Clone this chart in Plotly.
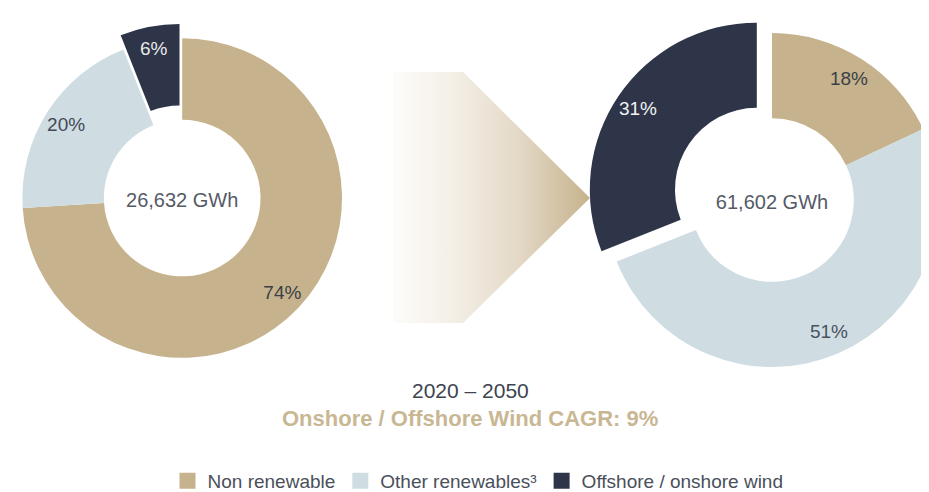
import plotly.graph_objects as go

# ---- data ----
categories = ["Non renewable", "Other renewables³", "Offshore / onshore wind"]
share_2020 = [74, 20, 6]
share_2050 = [18, 51, 31]
totals = ["26,632 GWh", "61,602 GWh"]
period_label = "2020 – 2050"
cagr_label = "Onshore / Offshore Wind CAGR: 9%"

# ---- style ----
colors = ["#c6b28c", "#cfdde3", "#2e3549"]
label_colors_2020 = ["#3b3f48", "#434956", "#e8e8ea"]
label_colors_2050 = ["#3b3f48", "#4a5161", "#f2f2f4"]
FONT = "Arial, Liberation Sans, sans-serif"
W, H = 960, 492
OFF = 8  # page body margin: screen position = plot position + OFF


def px(v):
    return v - OFF


def dom(cx, cy, r, pull):
    cx, cy = px(cx), px(cy)
    half = r * (1 + pull)
    return dict(
        x=[max(0, (cx - half) / W), min(1, (cx + half) / W)],
        y=[max(0, 1 - (cy + half) / H), min(1, 1 - (cy - half) / H)],
    )


fig = go.Figure()

# gradient arrow between the donuts (decoration)
ax = [393, 463, 590, 463, 393, 393]
ay = [72, 72, 198, 323, 323, 72]
fig.add_trace(go.Scatter(
    x=[px(v) for v in ax], y=[px(v) for v in ay],
    fill="toself", mode="lines", line=dict(width=0),
    fillgradient=dict(type="horizontal",
                      colorscale=[[0, "#fdfcfa"], [0.3, "#f4efe7"],
                                  [0.65, "#e3d8c5"], [1, "#c6b28c"]]),
    hoverinfo="skip", showlegend=False,
))

# legend entries
for cat, col in zip(categories, colors):
    fig.add_trace(go.Scatter(
        x=[None], y=[None], mode="markers", name=cat,
        marker=dict(symbol="square", size=16, color=col),
        showlegend=True,
    ))

specs = [
    (share_2020, totals[0], 182, 198, 160, 0.09, label_colors_2020),
    (share_2050, totals[1], 772, 200, 167, 0.11, label_colors_2050),
]
for vals, total, cx, cy, r, pull, lcol in specs:
    d = dom(cx, cy, r, pull)
    pulls = [0, 0, pull]
    # ring
    fig.add_trace(go.Pie(
        labels=categories, values=vals, hole=0.49, sort=False,
        direction="clockwise", pull=pulls, domain=d,
        marker=dict(colors=colors, line=dict(width=0)),
        textinfo="none", showlegend=False,
        hovertemplate="%{label}: %{value}%<extra></extra>",
        title=dict(text=total, position="middle center",
                   font=dict(family=FONT, size=20, color="#555a66")),
    ))
    # percentage labels (transparent ring placed toward the outer edge)
    fig.add_trace(go.Pie(
        labels=categories, values=vals, hole=0.72, sort=False,
        direction="clockwise", pull=pulls, domain=d,
        marker=dict(colors=["rgba(0,0,0,0)"] * 3, line=dict(width=0)),
        texttemplate="%{value}%", textposition="inside",
        insidetextorientation="horizontal",
        textfont=dict(family=FONT, size=19, color=lcol),
        showlegend=False, hoverinfo="skip",
    ))

fig.add_annotation(x=px(470), y=px(390), xref="x", yref="y", text=period_label,
                   showarrow=False,
                   font=dict(family=FONT, size=21, color="#3d4350"))
fig.add_annotation(x=px(470), y=px(418), xref="x", yref="y",
                   text="<b>" + cagr_label + "</b>", showarrow=False,
                   font=dict(family=FONT, size=22, color="#c9b794"))

fig.update_layout(
    width=W, height=H,
    margin=dict(l=0, r=0, t=0, b=0),
    paper_bgcolor="white", plot_bgcolor="white",
    font=dict(family=FONT),
    xaxis=dict(range=[0, W], visible=False, fixedrange=True, domain=[0, 1]),
    yaxis=dict(range=[H, 0], visible=False, fixedrange=True, domain=[0, 1]),
    legend=dict(orientation="h", x=px(478) / W, xanchor="center",
                y=1 - px(481) / H, yanchor="middle",
                font=dict(family=FONT, size=19, color="#4a4f5a"),
                itemclick=False, itemdoubleclick=False,
                bgcolor="rgba(0,0,0,0)"),
    showlegend=True,
)

fig.write_html("out.html")
